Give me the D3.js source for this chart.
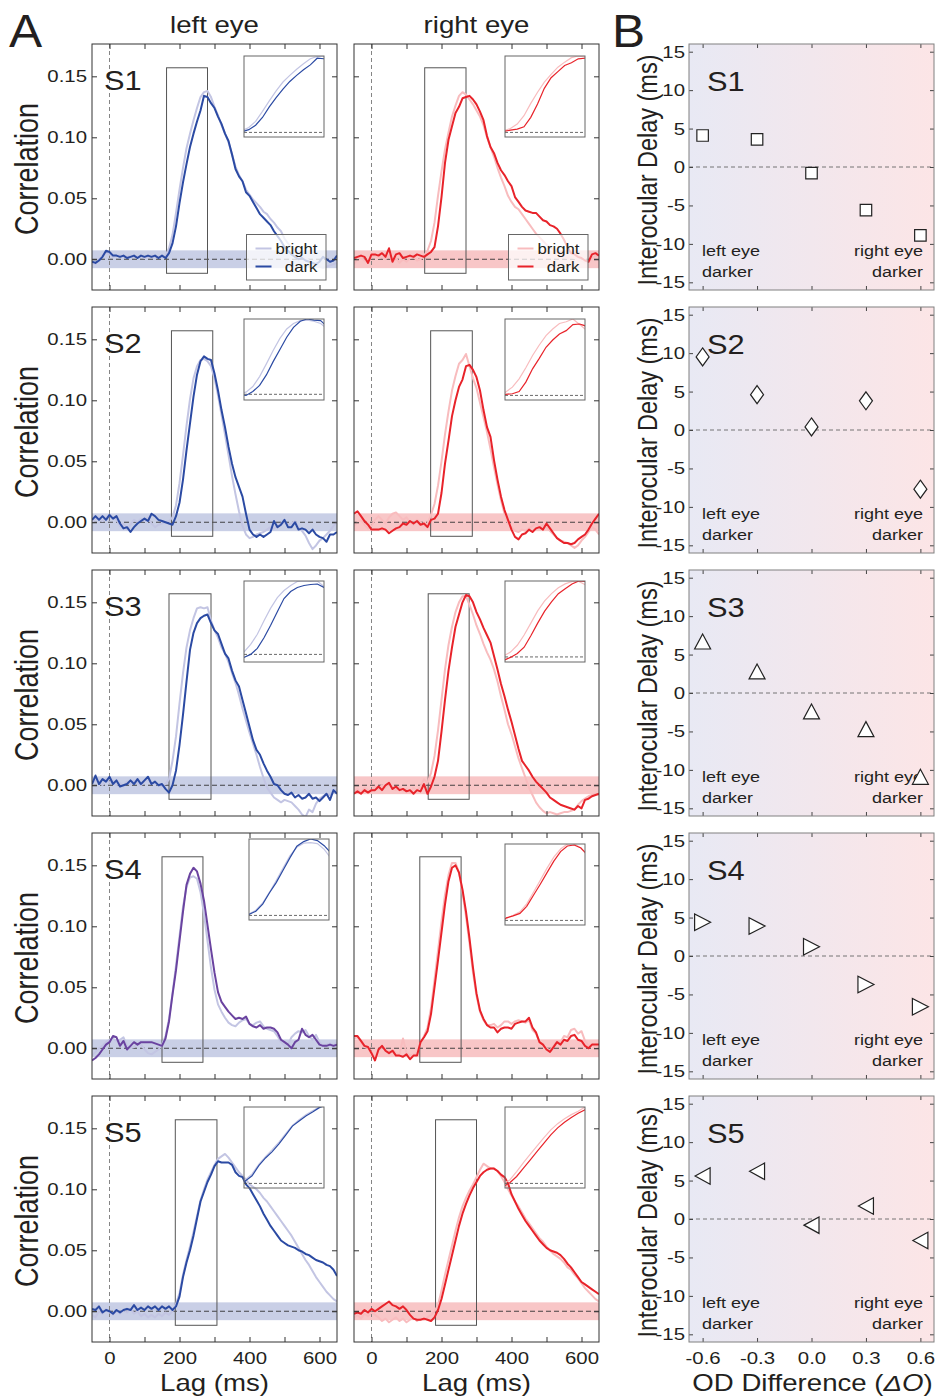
<!DOCTYPE html>
<html><head><meta charset="utf-8">
<script src="https://cdn.jsdelivr.net/npm/d3@7"></script>
<style>
html,body{margin:0;padding:0;background:#fff;}
svg{display:block;font-family:"Liberation Sans",Arial,Helvetica,sans-serif;}
</style>
</head><body><div id="chart"></div>
<script>
// ---------------- DATA ----------------
const lags = d3.range(-50, 651, 10); // lag grid (ms)

const s1LeftDark = [-.002,-.003,-.001,.002,.007,.006,.003,.003,.002,.003,
 .001,.002,.003,.001,.003,.002,.003,.002,.003,.001,
 .003,.001,.005,.013,.027,.046,.063,.078,.092,.103,
 .113,.122,.134,.133,.128,.124,.117,.111,.103,.097,
 .086,.074,.068,.064,.055,.052,.047,.042,.037,.034,
 .031,.028,.023,.019,.015,.010,.007,.004,.002,0,
 .001,-.001,-.002,-.003,-.004,-.002,.002,0,-.002,-.001,
 .003];
const s1LeftBright = [-.003,-.004,0,.003,.005,.004,.002,.003,.003,.002,
 .002,.003,.002,.002,.003,.001,.002,.003,.002,.002,
 .002,.003,.009,.020,.038,.057,.075,.091,.103,.114,
 .124,.133,.137,.138,.133,.125,.118,.110,.103,.096,
 .086,.076,.069,.064,.057,.053,.049,.046,.043,.039,
 .037,.033,.030,.026,.023,.017,.013,.010,.006,.004,
 .002,.001,-.001,-.003,-.005,-.006,-.007,-.006,-.005,-.004,
 -.003];
const s1RightDark = [.001,.002,.003,.002,-.003,.004,.004,.003,.005,.002,
 .009,-.002,.004,.005,.001,.002,.003,.002,.004,.003,
 .002,.004,.006,.010,.027,.051,.079,.098,.109,.120,
 .125,.132,.133,.134,.131,.127,.121,.114,.101,.092,
 .087,.079,.073,.069,.064,.060,.051,.047,.043,.040,
 .039,.038,.038,.035,.032,.031,.028,.027,.025,.021,
 .016,.010,.005,.004,.002,.001,-.001,-.002,.004,.005,
 .003];
const s1RightBright = [-.004,0,.001,-.001,-.002,.002,.003,.001,.002,0,
 .003,-.002,.001,-.003,0,-.002,.001,.002,-.001,0,
 .003,.007,.015,.030,.052,.072,.090,.104,.117,.126,
 .134,.137,.135,.131,.127,.122,.117,.110,.100,.092,
 .084,.075,.067,.060,.052,.047,.043,.041,.037,.033,
 .029,.025,.021,.018,.015,.012,.010,.008,.005,.003,
 .002,.001,.002,.001,0,-.001,-.003,-.002,.001,.003,
 .002];

const s2LeftDark = [.002,.005,.002,.005,.002,.006,.003,.005,-.001,-.005,
 -.004,-.008,-.004,-.001,.001,.003,.001,.007,.005,.002,
 .001,0,-.001,-.002,.005,.016,.035,.059,.081,.103,
 .121,.132,.136,.134,.133,.122,.108,.092,.078,.062,
 .048,.037,.029,.021,.007,-.006,-.010,-.012,-.010,-.012,
 -.010,-.008,.001,-.004,-.002,.002,-.004,-.004,0,-.006,
 -.005,-.006,-.009,-.006,-.010,-.012,-.013,-.016,-.010,-.010,
 -.008];
const s2LeftBright = [0,.003,.004,.001,.004,.006,.004,.002,-.003,-.001,
 -.006,-.002,.002,0,.003,.001,.004,-.001,-.004,-.002,
 -.001,0,.001,.004,.014,.032,.055,.079,.101,.118,
 .128,.133,.134,.132,.128,.118,.104,.088,.072,.055,
 .038,.023,.009,-.003,-.010,-.013,-.012,-.010,-.009,-.008,
 -.006,-.004,-.005,-.003,-.001,0,-.002,-.001,.001,-.004,
 -.007,-.011,-.017,-.022,-.019,-.015,-.013,-.010,-.007,-.003,
 0];
const s2RightDark = [.007,.009,.005,.001,-.002,-.006,-.006,-.006,-.005,-.006,
 -.009,-.007,-.005,-.004,-.001,-.002,.001,-.001,.001,-.002,
 -.001,-.004,.002,.003,.007,.024,.048,.067,.087,.100,
 .111,.117,.128,.129,.125,.119,.108,.092,.078,.070,
 .051,.035,.021,.010,.002,-.006,-.012,-.014,-.010,-.009,
 -.006,-.008,-.005,-.004,-.006,-.001,-.005,-.009,-.013,-.015,
 -.017,-.017,-.018,-.017,-.014,-.012,-.010,-.006,-.001,.003,
 .007];
const s2RightBright = [-.003,0,.002,-.002,-.005,-.003,.002,.005,.002,-.001,
 .004,.007,.008,.005,.002,.004,0,-.002,.002,0,
 -.003,-.001,.006,.015,.030,.050,.072,.091,.108,.120,
 .130,.133,.138,.128,.118,.110,.098,.086,.074,.060,
 .045,.031,.018,.007,-.001,-.004,-.007,-.008,-.006,-.007,
 -.005,-.003,-.001,-.004,-.002,-.004,-.007,-.010,-.013,-.015,
 -.016,-.017,-.019,-.021,-.019,-.015,-.012,-.008,-.004,-.006,
 -.010];

const s3LeftDark = [.001,.008,.001,.005,.003,.007,.001,.004,-.001,0,
 .001,.004,.001,.005,.001,.004,.007,.001,.003,0,
 .001,-.003,-.006,0,.012,.033,.058,.085,.111,.125,
 .133,.137,.139,.140,.133,.127,.124,.116,.108,.104,
 .094,.086,.081,.070,.059,.048,.037,.029,.025,.018,
 .012,.007,.001,0,-.004,-.007,-.008,-.006,-.010,-.008,
 -.011,-.010,-.007,-.011,-.010,-.013,-.010,-.007,-.012,-.004,
 -.007];
const s3LeftBright = [.002,.004,.003,0,.005,.002,.004,0,.002,-.001,
 .003,.001,.004,.002,0,.003,.005,.001,.002,0,
 -.001,.001,.005,.020,.040,.067,.092,.113,.127,.137,
 .145,.146,.145,.146,.135,.127,.121,.113,.108,.101,
 .092,.084,.074,.063,.053,.043,.034,.025,.015,.006,
 -.002,-.006,-.010,-.012,-.014,-.012,-.013,-.014,-.017,-.020,
 -.024,-.026,-.020,-.022,-.015,-.011,-.009,-.007,-.008,-.005,
 -.004];
const s3RightDark = [-.007,-.005,-.007,-.004,-.006,-.004,-.004,-.001,-.004,0,
 .002,-.003,-.001,-.004,-.003,-.005,-.004,-.007,-.004,-.005,
 .001,-.007,-.001,.007,.020,.044,.070,.094,.113,.130,
 .140,.150,.156,.155,.150,.142,.136,.129,.123,.117,
 .106,.095,.083,.073,.062,.052,.041,.030,.020,.016,
 .012,.007,.003,0,-.003,-.006,-.010,-.012,-.014,-.016,
 -.017,-.018,-.019,-.020,-.017,-.019,-.012,-.011,-.009,-.008,
 -.007];
const s3RightBright = [-.005,-.003,-.006,-.002,-.004,-.005,-.001,-.003,0,-.002,
 .001,-.003,-.004,-.002,-.005,-.003,-.006,-.002,-.004,-.001,
 .005,.002,.010,.024,.045,.070,.095,.115,.130,.142,
 .150,.155,.155,.148,.140,.131,.124,.116,.109,.103,
 .095,.085,.073,.062,.050,.042,.032,.022,.014,.006,
 -.002,-.008,-.014,-.018,-.021,-.023,-.022,-.023,-.024,-.023,
 -.022,-.022,-.021,-.020,-.016,-.013,-.011,-.009,-.008,-.007,
 -.008];

const s4LeftDark = [-.010,-.008,-.005,-.001,.003,.005,.010,.009,.002,.006,
 -.001,.002,.005,.003,.005,.005,.005,.005,.004,.003,
 .002,.008,.022,.044,.064,.088,.112,.134,.143,.148,
 .145,.135,.121,.101,.081,.062,.046,.038,.034,.030,
 .027,.024,.025,.024,.026,.020,.018,.017,.019,.016,
 .017,.017,.016,.013,.007,.005,.003,0,.005,.007,
 .016,.011,.009,.011,.007,.003,.002,.002,.003,.002,
 .003];
const s4LeftBright = [-.006,-.003,0,.002,.005,.007,.008,.006,.007,.009,
 .002,0,.001,.004,.003,-.001,-.004,-.005,-.003,-.001,
 .003,.010,.024,.045,.068,.092,.116,.132,.140,.141,
 .139,.128,.110,.088,.066,.048,.036,.030,.025,.021,
 .019,.018,.021,.023,.024,.020,.019,.021,.022,.018,
 .016,.015,.014,.010,.005,.002,.003,.009,.012,.014,
 .013,.015,.010,.007,.011,.005,.002,.003,.004,.002,
 .005];
const s4RightDark = [.010,.010,.006,.002,.001,-.004,-.010,-.001,.002,-.002,
 -.004,-.002,-.006,-.006,-.007,-.005,-.009,-.006,-.006,.005,
 .009,.014,.028,.050,.072,.095,.118,.137,.148,.150,
 .144,.130,.112,.090,.066,.045,.031,.024,.019,.017,
 .017,.013,.016,.017,.017,.016,.020,.021,.022,.022,
 .025,.017,.013,.005,.003,-.001,-.003,.001,.005,.003,
 .007,.006,.010,.011,.007,.006,.002,0,.003,.003,
 .003];
const s4RightBright = [.008,.009,.005,.001,0,-.003,-.008,-.002,.001,-.001,
 -.003,-.001,-.004,-.005,.008,-.004,-.006,-.005,-.004,.004,
 .010,.017,.033,.056,.080,.104,.126,.142,.152,.152,
 .144,.128,.108,.086,.062,.043,.030,.023,.019,.019,
 .020,.017,.019,.022,.022,.020,.022,.023,.022,.021,
 .023,.015,.012,.005,.003,0,-.002,.002,.006,.005,
 .010,.009,.015,.016,.012,.014,.006,.002,.003,.001,
 .002];

const s5LeftDark = [.002,.001,.004,-.001,.001,0,-.002,.001,-.001,.001,
 .002,.001,.005,.001,.003,.001,.004,.002,.004,.001,
 .004,.002,.004,.001,.004,.012,.028,.040,.050,.062,
 .076,.090,.098,.106,.112,.119,.123,.122,.122,.122,
 .120,.114,.111,.110,.104,.101,.096,.091,.086,.080,
 .075,.070,.066,.062,.058,.056,.054,.053,.052,.050,
 .049,.047,.046,.044,.042,.041,.040,.038,.037,.034,
 .029];
const s5LeftBright = [-.003,-.005,0,-.002,.002,-.001,-.003,0,-.002,.001,
 -.001,.002,-.002,0,-.004,-.002,-.005,-.003,-.005,-.002,
 -.004,-.001,-.003,0,.006,.015,.030,.042,.053,.065,
 .078,.091,.100,.108,.114,.120,.125,.127,.129,.126,
 .122,.118,.114,.111,.108,.104,.102,.100,.097,.093,
 .090,.086,.082,.078,.074,.070,.066,.062,.057,.052,
 .047,.042,.038,.033,.028,.024,.020,.016,.013,.010,
 .008];
const s5RightDark = [-.002,-.001,-.002,.001,-.001,.002,0,.002,.004,.006,
 .008,.005,.004,.002,.004,.001,-.003,-.006,-.007,-.007,
 -.006,-.007,-.008,-.005,.001,.010,.022,.034,.046,.058,
 .070,.080,.088,.095,.101,.106,.111,.114,.116,.117,
 .117,.115,.112,.110,.105,.096,.090,.084,.079,.074,
 .070,.066,.062,.058,.055,.052,.050,.049,.048,.046,
 .043,.039,.036,.032,.028,.024,.022,.020,.018,.016,
 .014];
const s5RightBright = [-.005,-.003,-.006,-.002,-.004,-.001,-.003,-.005,-.008,-.006,
 -.009,-.007,-.005,-.008,-.006,-.009,-.007,-.005,-.008,-.006,
 -.007,-.005,-.003,0,.005,.017,.030,.042,.054,.066,
 .077,.086,.093,.099,.104,.110,.116,.121,.119,.117,
 .117,.115,.111,.106,.100,.095,.090,.086,.081,.076,
 .072,.068,.064,.060,.057,.053,.050,.047,.045,.043,
 .040,.036,.034,.030,.027,.023,.019,.016,.013,.010,
 .008];

const subjects = ["S1","S2","S3","S4","S5"];
const leftDark = [s1LeftDark, s2LeftDark, s3LeftDark, s4LeftDark, s5LeftDark];
const leftBright = [s1LeftBright, s2LeftBright, s3LeftBright, s4LeftBright, s5LeftBright];
const rightDark = [s1RightDark, s2RightDark, s3RightDark, s4RightDark, s5RightDark];
const rightBright = [s1RightBright, s2RightBright, s3RightBright, s4RightBright, s5RightBright];

// analysis windows (lag ms) shown as boxes and zoomed in insets
const windowLeft = [[163,280],[177,295],[170,290],[150,267],[188,307]];
const windowRight = [[152,270],[169,288],[162,279],[138,256],[183,300]];
const windowCorr = [-0.0115, 0.157];
const noiseBand = 0.0073;

const corrTicks = [0, 0.05, 0.10, 0.15];
const lagTicks = [0,100,200,300,400,500,600];
const lagLabels = [0,200,400,600];

const odDiff = [-0.6,-0.3,0.0,0.3,0.6];
const delayS1 = [4.1, 3.6, -0.8, -5.6, -8.9];
const delayS2 = [9.5, 4.6, 0.4, 3.8, -7.7];
const delayS3 = [6.7, 2.8, -2.4, -4.7, -10.9];
const delayS4 = [4.4, 3.9, 1.2, -3.7, -6.6];
const delayS5 = [5.6, 6.2, -0.8, 1.7, -2.8];
const delays = [delayS1, delayS2, delayS3, delayS4, delayS5];
const delayTicks = [-15,-10,-5,0,5,10,15];

// ---------------- LAYOUT / STYLE ----------------
const W = 941, H = 1397;
const ROW_TOP = 44, ROW_STEP = 263, PH = 246, PW = 245;
const COLX = {left: 92, right: 354, b: 689};
const TXT = "#231f20";
const SX = 1.2; // horizontal stretch of the original figure's lettering
const blueDark = "#2b4aa3", blueBright = "#c3c5e3", blueBand = "#c9cfe6";
const redDark = "#e8232a", redBright = "#f8bcbe", redBand = "#f8c6c7";
const purpleDark = "#6a43a0";
const darkLeftColors = [blueDark, blueDark, blueDark, purpleDark, blueDark];
const insetOffLeft = [[152,12],[152,12],[152,11],[157,6],[152,11]];
const insetOffRight = [[151,12],[151,12],[151,11],[151,11],[151,11]];
const markerShapes = ["square","diamond","triUp","triRight","triLeft"];

const svg = d3.select("#chart").append("svg").attr("width", W).attr("height", H);
svg.append("rect").attr("width", W).attr("height", H).attr("fill", "#fff");
const defs = svg.append("defs");
const grad = defs.append("linearGradient").attr("id","odGrad").attr("x1","0").attr("x2","1").attr("y1","0").attr("y2","0");
grad.append("stop").attr("offset","0%").attr("stop-color","#e8e9f4");
grad.append("stop").attr("offset","100%").attr("stop-color","#fce5e6");

function label(parent, x, y, str, size, opts = {}) {
  const sx = opts.sx || SX;
  let tr = `translate(${x},${y}) scale(${sx},1)`;
  if (opts.rotate) tr += " rotate(-90)";
  return parent.append("text").attr("transform", tr)
    .attr("text-anchor", opts.anchor || "start")
    .attr("font-size", size).attr("fill", TXT).text(str);
}

function styleAxis(sel, fontSize, tickColor) {
  sel.attr("font-family", null).attr("font-size", fontSize);
  sel.select(".domain").remove();
  sel.selectAll(".tick line").attr("stroke", tickColor).attr("stroke-width", 1);
  sel.selectAll(".tick text").attr("fill", TXT).attr("transform", function () {
    const xx = +this.getAttribute("x") || 0;
    return `translate(${xx},0) scale(${SX},1) translate(${-xx},0)`;
  });
}

// ---------------- PANEL A ----------------
function drawA(i, side) {
  const x0 = COLX[side], y0 = ROW_TOP + ROW_STEP * i;
  const isLeft = side === "left";
  const darkData = isLeft ? leftDark[i] : rightDark[i];
  const brightData = isLeft ? leftBright[i] : rightBright[i];
  const darkCol = isLeft ? darkLeftColors[i] : redDark;
  const insetDarkCol = isLeft ? blueDark : redDark;
  const brightCol = isLeft ? blueBright : redBright;
  const bandCol = isLeft ? blueBand : redBand;
  const win = isLeft ? windowLeft[i] : windowRight[i];

  const x = d3.scaleLinear().domain([-50, 650]).range([x0, x0 + PW]);
  const y = d3.scaleLinear().domain([-0.0252, 0.1765]).range([y0 + PH, y0]);
  const g = svg.append("g");
  const cid = `clipA${i}${side}`;
  defs.append("clipPath").attr("id", cid).append("rect")
    .attr("x", x0).attr("y", y0).attr("width", PW).attr("height", PH);
  const pg = g.append("g").attr("clip-path", `url(#${cid})`);

  pg.append("rect").attr("x", x0).attr("width", PW)
    .attr("y", y(noiseBand)).attr("height", y(-noiseBand) - y(noiseBand)).attr("fill", bandCol);
  pg.append("line").attr("x1", x0).attr("x2", x0 + PW).attr("y1", y(0)).attr("y2", y(0))
    .attr("stroke", "#333").attr("stroke-width", 0.9).attr("stroke-dasharray", "5,3");
  pg.append("line").attr("x1", x(0)).attr("x2", x(0)).attr("y1", y0).attr("y2", y0 + PH)
    .attr("stroke", "#777").attr("stroke-width", 0.9).attr("stroke-dasharray", "4,3");
  pg.append("rect").attr("x", x(win[0])).attr("width", x(win[1]) - x(win[0]))
    .attr("y", y(windowCorr[1])).attr("height", y(windowCorr[0]) - y(windowCorr[1]))
    .attr("fill", "none").attr("stroke", "#555").attr("stroke-width", 1);

  const n = Math.min(lags.length, darkData.length, brightData.length);
  const pts = d3.range(n);
  const line = (arr) => d3.line().x(k => x(lags[k])).y(k => y(arr[k]))(pts);
  pg.append("path").attr("d", line(brightData)).attr("fill", "none")
    .attr("stroke", brightCol).attr("stroke-width", 2).attr("stroke-linejoin", "round");
  pg.append("path").attr("d", line(darkData)).attr("fill", "none")
    .attr("stroke", darkCol).attr("stroke-width", 2).attr("stroke-linejoin", "round");

  // inset (zoom of the window)
  const off = isLeft ? insetOffLeft[i] : insetOffRight[i];
  const ix = x0 + off[0], iy = y0 + off[1], iw = 80, ih = 81;
  const inWin = pts.filter(k => lags[k] >= win[0] && lags[k] <= win[1]);
  const vals = inWin.map(k => darkData[k]).concat(inWin.map(k => brightData[k]));
  const lo = Math.min(0, d3.min(vals)), hi = d3.max(vals);
  const ixs = d3.scaleLinear().domain(win).range([ix, ix + iw]);
  const iys = d3.scaleLinear().domain([lo - 0.06 * (hi - lo), hi]).range([iy + ih, iy]);
  const icid = `clipI${i}${side}`;
  defs.append("clipPath").attr("id", icid).append("rect")
    .attr("x", ix).attr("y", iy).attr("width", iw).attr("height", ih);
  const ig = g.append("g");
  const igc = ig.append("g").attr("clip-path", `url(#${icid})`);
  igc.append("line").attr("x1", ix).attr("x2", ix + iw).attr("y1", iys(0)).attr("y2", iys(0))
    .attr("stroke", "#444").attr("stroke-width", 0.8).attr("stroke-dasharray", "3,2");
  const near = pts.filter(k => lags[k] >= win[0] - 10 && lags[k] <= win[1] + 10);
  const iline = (arr) => d3.line().x(k => ixs(lags[k])).y(k => iys(arr[k]))(near);
  igc.append("path").attr("d", iline(brightData)).attr("fill", "none")
    .attr("stroke", brightCol).attr("stroke-width", 1.2);
  igc.append("path").attr("d", iline(darkData)).attr("fill", "none")
    .attr("stroke", insetDarkCol).attr("stroke-width", 1.2);
  ig.append("rect").attr("x", ix).attr("y", iy).attr("width", iw).attr("height", ih)
    .attr("fill", "none").attr("stroke", "#666").attr("stroke-width", 1);

  // legend (top row only)
  if (i === 0) {
    const lx = x0 + 154.5, ly = y0 + 190.5;
    const lg = g.append("g");
    lg.append("rect").attr("x", lx).attr("y", ly).attr("width", 79.5).attr("height", 45.5)
      .attr("fill", "#fff").attr("fill-opacity", 0.75).attr("stroke", "#666").attr("stroke-width", 1);
    lg.append("line").attr("x1", lx + 9).attr("x2", lx + 25).attr("y1", ly + 14).attr("y2", ly + 14)
      .attr("stroke", brightCol).attr("stroke-width", 2);
    lg.append("line").attr("x1", lx + 9).attr("x2", lx + 25).attr("y1", ly + 32).attr("y2", ly + 32)
      .attr("stroke", darkCol).attr("stroke-width", 2);
    label(lg, lx + 71, ly + 19, "bright", 14, {anchor: "end"});
    label(lg, lx + 71, ly + 37, "dark", 14, {anchor: "end"});
  }

  // axes (inward ticks on all four sides)
  const lastRow = i === subjects.length - 1;
  const axL = g.append("g").attr("transform", `translate(${x0},0)`)
    .call(d3.axisLeft(y).tickValues(corrTicks).tickSize(-5).tickPadding(5)
      .tickFormat(isLeft ? (d => d.toFixed(2)) : (() => "")));
  styleAxis(axL, 17, "#333");
  const axR = g.append("g").attr("transform", `translate(${x0 + PW},0)`)
    .call(d3.axisRight(y).tickValues(corrTicks).tickSize(-5).tickFormat(() => ""));
  styleAxis(axR, 17, "#333");
  const axB = g.append("g").attr("transform", `translate(0,${y0 + PH})`)
    .call(d3.axisBottom(x).tickValues(lagTicks).tickSize(-5).tickPadding(10)
      .tickFormat(d => (lastRow && lagLabels.includes(d)) ? String(d) : ""));
  styleAxis(axB, 17, "#333");
  const axT = g.append("g").attr("transform", `translate(0,${y0})`)
    .call(d3.axisTop(x).tickValues(lagTicks).tickSize(-5).tickFormat(() => ""));
  styleAxis(axT, 17, "#333");

  g.append("rect").attr("x", x0).attr("y", y0).attr("width", PW).attr("height", PH)
    .attr("fill", "none").attr("stroke", "#333").attr("stroke-width", 1);

  if (isLeft) {
    label(g, x0 + 12, y0 + 46, subjects[i], 28, {sx: 1.1});
    label(g, 38, y0 + 125, "Correlation", 27, {anchor: "middle", rotate: true});
  }
  if (lastRow) {
    label(g, x0 + PW / 2, y0 + PH + 49, "Lag (ms)", 23, {anchor: "middle"});
  }
}

// ---------------- PANEL B ----------------
function markerPath(shape) {
  switch (shape) {
    case "square": { const w = 11.5, h = 11.5; return `M${-w/2},${-h/2}h${w}v${h}h${-w}Z`; }
    case "diamond": { const w = 13, h = 18; return `M0,${-h/2}L${w/2},0L0,${h/2}L${-w/2},0Z`; }
    case "triUp": { const w = 16, h = 15; return `M0,${-h/2}L${w/2},${h/2}L${-w/2},${h/2}Z`; }
    case "triRight": { const w = 16, h = 16.5; return `M${w/2},0L${-w/2},${h/2}L${-w/2},${-h/2}Z`; }
    case "triLeft": { const w = 15, h = 16.5; return `M${-w/2},0L${w/2},${-h/2}L${w/2},${h/2}Z`; }
  }
}

function drawB(i) {
  const x0 = COLX.b, y0 = ROW_TOP + ROW_STEP * i;
  const x = d3.scaleLinear().domain([-0.675, 0.675]).range([x0, x0 + PW]);
  const y = d3.scaleLinear().domain([-16, 16]).range([y0 + PH, y0]);
  const g = svg.append("g");
  g.append("rect").attr("x", x0).attr("y", y0).attr("width", PW).attr("height", PH).attr("fill", "url(#odGrad)");
  g.append("line").attr("x1", x0).attr("x2", x0 + PW).attr("y1", y(0)).attr("y2", y(0))
    .attr("stroke", "#666").attr("stroke-width", 0.9).attr("stroke-dasharray", "4,3");

  label(g, x0 + 18, y0 + 47, subjects[i], 28, {sx: 1.1});
  label(g, 702, y0 + 212, "left eye", 15);
  label(g, 702, y0 + 233, "darker", 15);
  label(g, 923, y0 + 212, "right eye", 15, {anchor: "end"});
  label(g, 923, y0 + 233, "darker", 15, {anchor: "end"});

  const lastRow = i === subjects.length - 1;
  const axL = g.append("g").attr("transform", `translate(${x0},0)`)
    .call(d3.axisLeft(y).tickValues(delayTicks).tickSize(-4).tickPadding(4).tickFormat(d => String(d)));
  styleAxis(axL, 17, "#444");
  const axR = g.append("g").attr("transform", `translate(${x0 + PW},0)`)
    .call(d3.axisRight(y).tickValues(delayTicks).tickSize(-4).tickFormat(() => ""));
  styleAxis(axR, 17, "#444");
  const axB = g.append("g").attr("transform", `translate(0,${y0 + PH})`)
    .call(d3.axisBottom(x).tickValues(odDiff).tickSize(-4).tickPadding(10)
      .tickFormat(d => lastRow ? d.toFixed(1) : ""));
  styleAxis(axB, 17, "#444");
  const axT = g.append("g").attr("transform", `translate(0,${y0})`)
    .call(d3.axisTop(x).tickValues(odDiff).tickSize(-4).tickFormat(() => ""));
  styleAxis(axT, 17, "#444");
  g.append("rect").attr("x", x0).attr("y", y0).attr("width", PW).attr("height", PH)
    .attr("fill", "none").attr("stroke", "#808080").attr("stroke-width", 1);

  const shape = markerPath(markerShapes[i]);
  g.selectAll("path.mk").data(odDiff.map((o, k) => [o, delays[i][k]])).enter()
    .append("path").attr("class", "mk").attr("d", shape)
    .attr("transform", d => `translate(${x(d[0])},${y(d[1])})`)
    .attr("fill", "#fff").attr("stroke", "#222").attr("stroke-width", 1.2);

  label(g, 657, y0 + 126, "Interocular Delay (ms)", 23.5, {anchor: "middle", rotate: true});

  if (lastRow) {
    const t = g.append("text").attr("transform", `translate(${x0 + PW / 2 + 1},${y0 + PH + 49}) scale(${SX},1)`)
      .attr("text-anchor", "middle").attr("font-size", 23).attr("fill", TXT);
    t.append("tspan").text("OD Difference (");
    t.append("tspan").attr("font-style", "italic").text("\u0394O");
    t.append("tspan").text(")");
  }
}

for (let i = 0; i < subjects.length; i++) {
  drawA(i, "left");
  drawA(i, "right");
  drawB(i);
}

// titles and panel letters
label(svg, 214.5, 33, "left eye", 23, {anchor: "middle"});
label(svg, 476.5, 33, "right eye", 23, {anchor: "middle"});
label(svg, 9, 47, "A", 46, {sx: 1.08});
label(svg, 612, 47, "B", 46, {sx: 1.08});
</script>
</body></html>
